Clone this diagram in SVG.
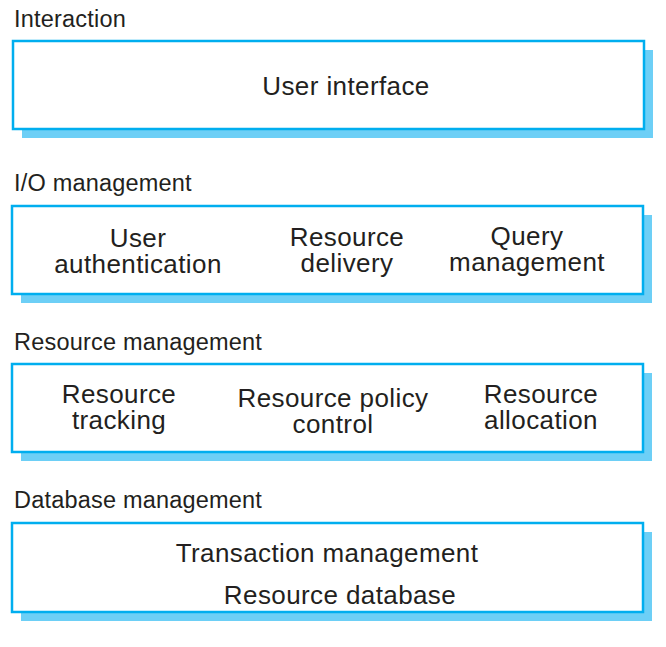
<svg xmlns="http://www.w3.org/2000/svg" width="666" height="647" viewBox="0 0 666 647">
<style>
.sh{fill:#6dcff6;stroke:none}
.bx{fill:#fff;stroke:#00aeef;stroke-width:2.5}
.lb{font-family:"Liberation Sans",Arial,sans-serif;font-size:23.5px;fill:#231f20;letter-spacing:0.2px}
.tx{font-family:"Liberation Sans",Arial,sans-serif;font-size:26px;fill:#231f20;text-anchor:middle;letter-spacing:0.4px}
</style>
<rect width="666" height="647" fill="#fff"/>
<g id="interaction">
<text class="lb" x="14" y="27">Interaction</text>
<rect class="sh" x="22" y="50" width="631" height="88"/>
<rect class="bx" x="13" y="41" width="631" height="88"/>
<text class="tx" x="346" y="95">User interface</text>
</g>
<g id="io-management">
<text class="lb" x="14" y="191">I/O management</text>
<rect class="sh" x="21" y="215" width="631" height="88"/>
<rect class="bx" x="12" y="206" width="631" height="88"/>
<text class="tx" x="138" y="247">User</text>
<text class="tx" x="138" y="273">authentication</text>
<text class="tx" x="347" y="246">Resource</text>
<text class="tx" x="347" y="272">delivery</text>
<text class="tx" x="527" y="245">Query</text>
<text class="tx" x="527" y="271">management</text>
</g>
<g id="resource-management">
<text class="lb" x="14" y="350">Resource management</text>
<rect class="sh" x="21" y="373" width="631" height="88"/>
<rect class="bx" x="12" y="364" width="631" height="88"/>
<text class="tx" x="119" y="403">Resource</text>
<text class="tx" x="119" y="429">tracking</text>
<text class="tx" x="333" y="407">Resource policy</text>
<text class="tx" x="333" y="433">control</text>
<text class="tx" x="541" y="403">Resource</text>
<text class="tx" x="541" y="429">allocation</text>
</g>
<g id="database-management">
<text class="lb" x="14" y="508">Database management</text>
<rect class="sh" x="21" y="532" width="631" height="89"/>
<rect class="bx" x="12" y="523" width="631" height="89"/>
<text class="tx" x="327" y="562">Transaction management</text>
<text class="tx" x="340" y="604">Resource database</text>
</g>
<g id="connectors"></g>
</svg>
